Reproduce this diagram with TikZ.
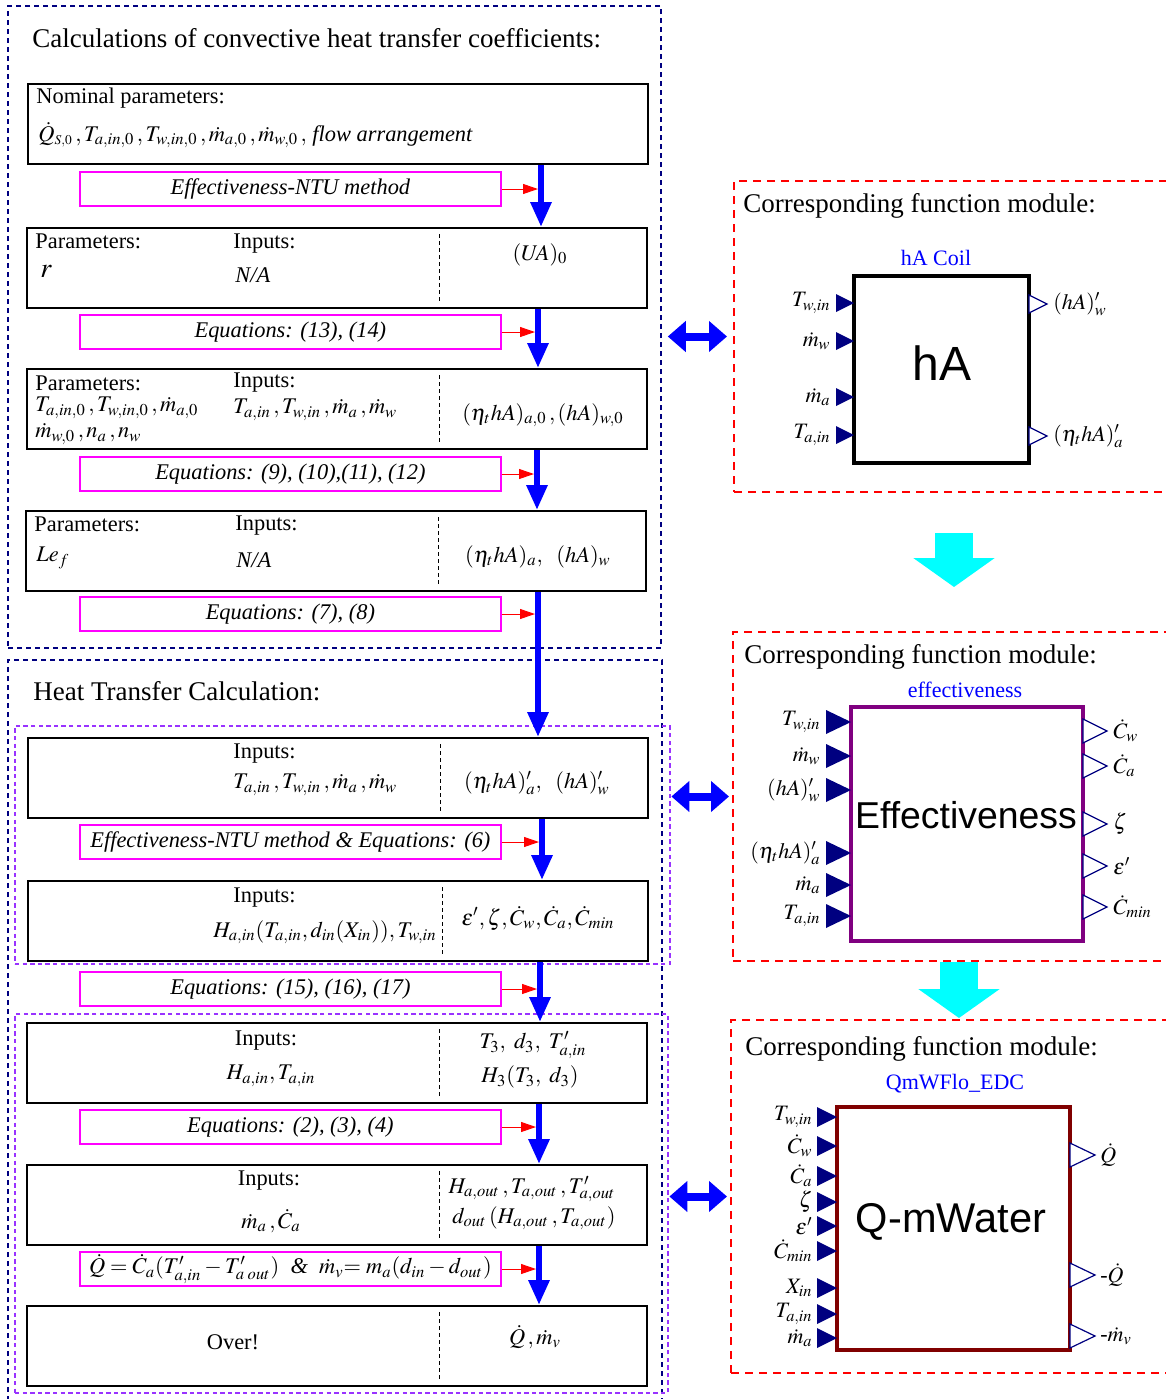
\documentclass[tikz,border=0pt]{standalone}
\usepackage{mathptmx}
\usepackage{fontspec}
\setmainfont{Liberation Serif}
\setsansfont{Liberation Sans}
\usetikzlibrary{positioning, arrows.meta, calc, fit}

\definecolor{navyline}{RGB}{0,0,128}
\definecolor{dotviolet}{RGB}{153,51,255}
\definecolor{modpurple}{RGB}{128,0,128}
\definecolor{modmaroon}{RGB}{128,0,0}
\definecolor{notepink}{RGB}{255,0,255}
\definecolor{aqua}{RGB}{0,255,255}
\definecolor{pureblue}{RGB}{0,0,255}
\definecolor{purered}{RGB}{255,0,0}

\begin{document}
\begin{tikzpicture}[
  x=0.5pt, y=-0.5pt,
  calcgroup/.style={draw=navyline, line width=0.8pt, dash pattern=on 2.5pt off 2pt, inner sep=0pt},
  subgroup/.style={draw=dotviolet, line width=1.4pt, dash pattern=on 2.2pt off 1.6pt, inner sep=0pt},
  modframe/.style={draw=purered, line width=1pt, dash pattern=on 4pt off 3pt, inner sep=0pt},
  stepbox/.style={draw=black, line width=1.2pt, minimum width=310pt, minimum height=40pt,
    anchor=north west, inner sep=0pt},
  note/.style={draw=notepink, line width=0.9pt, minimum width=210.5pt, minimum height=17pt,
    anchor=west, inner sep=0pt, font=\itshape\fontsize{11.2}{13}\selectfont},
  heading/.style={anchor=west, inner sep=0pt, font=\fontsize{13.5}{16}\selectfont},
  txt/.style={inner sep=0pt, font=\fontsize{11.2}{13}\selectfont},
  divider/.style={black, line width=0.5pt, dash pattern=on 2pt off 1.5pt},
  flow/.style={pureblue, line width=3pt, -{Triangle[length=12.5pt, width=10pt]}},
  hint/.style={purered, line width=0.5pt, -{Triangle[length=7.5pt, width=5pt]}, shorten >=1.5pt},
  link/.style={pureblue, line width=4pt, {Triangle[length=9pt, width=15pt]}-{Triangle[length=9pt, width=15pt]}},
  bigdown/.style={aqua, line width=19pt, -{Triangle[length=14.5pt, width=40pt]}},
  fblock/.style={line width=2pt, inner sep=0pt},
  blockname/.style={inner sep=0pt},
  modname/.style={pureblue, inner sep=0pt, font=\fontsize{11}{13}\selectfont},
  portlbl/.style={inner sep=0pt, font=\fontsize{11}{13}\selectfont},
  inport/.style={fill=navyline},
  outport/.style={draw=navyline, line width=0.6pt, fill=white},
]
\useasboundingbox (0,0) rectangle (1166,1399);
\clip (0,0) rectangle (1166,1399);

% frames
\node[calcgroup, fit={(8,6) (661,648)}] (grp1) {};
\draw[calcgroup] (8,1410) -- (8,660) -- (662,660) -- (662,1410);
\node[subgroup, fit={(15,726) (670,964)}] (subA) {};
\node[subgroup, fit={(15,1014) (668,1393)}] (subB) {};

\node[heading] (title1) at (32,38) {Calculations of convective heat transfer coefficients:};
\node[heading] (title2) at (33,691) {Heat Transfer Calculation:};

% step boxes
\node[stepbox] (nom) at (27,83) {};
\node[stepbox] (ua) at (26,227) {};
\node[stepbox] (eta0) at (26,368) {};
\node[stepbox] (etahA) at (25,510) {};
\node[stepbox] (effin) at (27,737) {};
\node[stepbox] (effout) at (27,880) {};
\node[stepbox] (state3) at (26,1022) {};
\node[stepbox] (outlet) at (26,1164) {};
\node[stepbox] (over) at (26,1305) {};

\foreach \b in {ua, eta0, etahA, effin, state3, outlet, over}
  \draw[divider] ($(\b.north west)+(413,7)$) -- ($(\b.south west)+(413,-7)$);
\draw[divider] ($(effout.north west)+(415,7)$) -- ($(effout.south west)+(415,-7)$);

% method notes
\node[note] (ntu) at (79,189) {Effectiveness-NTU method};
\node[note] (eq1314) at (79,332) {Equations: (13), (14)};
\node[note] (eq912) at (79,474) {Equations: (9), (10),(11), (12)};
\node[note] (eq78) at (79,614) {Equations: (7), (8)};
\node[note] (ntusix) at (79,842) {Effectiveness-NTU method \& Equations: (6)};
\node[note] (eq1517) at (79,989) {Equations: (15), (16), (17)};
\node[note] (eq24) at (79,1127) {Equations: (2), (3), (4)};
\node[note] (eqqm) at (79,1269) {$\dot Q = \dot C_a(T'_{a,in} - T'_{a\;out})$\ \ \&\ \ $\dot m_v{=}\;m_a(d_{in} - d_{out})$};

% arrow columns
\coordinate (c1) at (541,0);
\coordinate (c2) at (538,0);
\coordinate (c3) at (537,0);
\coordinate (c4) at (538,0);
\coordinate (c5) at (542,0);
\coordinate (c6) at (540,0);
\coordinate (c7) at (539,0);
\coordinate (c8) at (539,0);

\draw[flow] (nom.south -| c1) -- (ua.north -| c1);
\draw[flow] (ua.south -| c2) -- (eta0.north -| c2);
\draw[flow] (eta0.south -| c3) -- (etahA.north -| c3);
\draw[flow] (etahA.south -| c4) -- (effin.north -| c4);
\draw[flow] (effin.south -| c5) -- (effout.north -| c5);
\draw[flow] (effout.south -| c6) -- (state3.north -| c6);
\draw[flow] (state3.south -| c7) -- (outlet.north -| c7);
\draw[flow] (outlet.south -| c8) -- (over.north -| c8);

\draw[hint] (ntu.east) -- (ntu.east -| c1);
\draw[hint] (eq1314.east) -- (eq1314.east -| c2);
\draw[hint] (eq912.east) -- (eq912.east -| c3);
\draw[hint] (eq78.east) -- (eq78.east -| c4);
\draw[hint] (ntusix.east) -- (ntusix.east -| c5);
\draw[hint] (eq1517.east) -- (eq1517.east -| c6);
\draw[hint] (eq24.east) -- (eq24.east -| c7);
\draw[hint] (eqqm.east) -- (eqqm.east -| c8);

% box texts
\node[txt, anchor=west] (nomhd) at (36,98) {Nominal parameters:};
\node[txt, anchor=west] (nomval) at (38,135) {$\dot Q_{\scriptscriptstyle S,0}\,, T_{a,in,0}\,, T_{w,in,0}\,, \dot m_{a,0}\,, \dot m_{w,0}\,,$ \textit{flow arrangement}};

\node[txt, anchor=west] (uapar) at (35,241) {Parameters:};
\node[txt, anchor=west, font=\fontsize{14}{16}\selectfont] (uar) at (40,271) {$r$};
\node[txt, anchor=west] (uain) at (233,244) {Inputs:};
\node[txt, anchor=west] (uana) at (235,275) {\textit{N/A}};
\node[txt] (uaout) at (540,255) {$(U\!A)_0$};

\node[txt, anchor=west] (eta0par) at (35,383) {Parameters:};
\node[txt, anchor=west] (eta0p1) at (35,408) {$T_{a,in,0}\,, T_{w,in,0}\,, \dot m_{a,0}$};
\node[txt, anchor=west] (eta0p2) at (35,434) {$\dot m_{w,0}\,, n_a\,, n_w$};
\node[txt, anchor=west] (eta0in) at (233,383) {Inputs:};
\node[txt, anchor=west] (eta0iv) at (233,410) {$T_{a,in}\,, T_{w,in}\,, \dot m_a\,, \dot m_w$};
\node[txt] (eta0out) at (543,415) {$(\eta_t hA)_{a,0}\,, (hA)_{w,0}$};

\node[txt, anchor=west] (etapar) at (34,524) {Parameters:};
\node[txt, anchor=west] (etalef) at (36,558) {$Le_f$};
\node[txt, anchor=west] (etain) at (235,526) {Inputs:};
\node[txt, anchor=west] (etana) at (236,560) {\textit{N/A}};
\node[txt] (etaout) at (538,557) {$(\eta_t hA)_a,\ \ (hA)_w$};

\node[txt, anchor=west] (effinin) at (233,754) {Inputs:};
\node[txt, anchor=west] (effiniv) at (233,785) {$T_{a,in}\,, T_{w,in}\,, \dot m_a\,, \dot m_w$};
\node[txt] (effinout) at (537,783) {$(\eta_t hA)'_a,\ \ (hA)'_w$};

\node[txt, anchor=west] (effoutin) at (233,898) {Inputs:};
\node[txt, anchor=east] (effoutiv) at (437,932) {$H_{a,in}(T_{a,in}, d_{in}(X_{in})), T_{w,in}$};
\node[txt] (effoutout) at (538,918) {$\varepsilon', \zeta, \dot C_w, \dot C_a, \dot C_{min}$};

\node[txt] (st3in) at (266,1041) {Inputs:};
\node[txt] (st3iv) at (271,1076) {$H_{a,in}, T_{a,in}$};
\node[txt] (st3o1) at (533,1045) {$T_3,\ d_3,\ T'_{a,in}$};
\node[txt] (st3o2) at (530,1077) {$H_3(T_3,\ d_3)$};

\node[txt] (outin) at (269,1181) {Inputs:};
\node[txt] (outiv) at (271,1221) {$\dot m_a\,, \dot C_a$};
\node[txt] (outo1) at (532,1189) {$H_{a,out}\,, T_{a,out}\,, T'_{a,out}$};
\node[txt] (outo2) at (534,1218) {$d_{out}\,(H_{a,out}\,, T_{a,out})$};

\node[txt] (overtxt) at (233,1342) {Over!};
\node[txt] (overout) at (535,1337) {$\dot Q\,, \dot m_v$};

% function modules
\node[modframe, fit={(734,181) (1180,492)}] (modA) {};
\node[modframe, fit={(733,632) (1180,961)}] (modB) {};
\node[modframe, fit={(731,1020) (1180,1373)}] (modC) {};
\node[heading] (modAhd) at (743,206) {Corresponding function module:};
\node[heading] (modBhd) at (744,657) {Corresponding function module:};
\node[heading] (modChd) at (745,1049) {Corresponding function module:};

\node[fblock, draw=black, fit={(854,276) (1029,463)}] (blkA) {};
\node[fblock, draw=modpurple, fit={(851,707) (1083,941)}] (blkB) {};
\node[fblock, draw=modmaroon, fit={(837,1107) (1070,1350)}] (blkC) {};

\node[modname] (blkAnm) at (936,258) {hA Coil};
\node[modname] (blkBnm) at (965,690) {effectiveness};
\node[modname] (blkCnm) at (955,1084) {QmWFlo\_EDC};

\node[blockname, font=\sffamily\fontsize{24}{28}\selectfont] (blkAtx) at (942,363) {hA};
\node[blockname, font=\sffamily\fontsize{18.7}{22}\selectfont] (blkBtx) at (966,815) {Effectiveness};
\node[blockname, font=\sffamily\fontsize{20.8}{24}\selectfont] (blkCtx) at (951,1222) {Q-mWater};

% ports
\foreach \py/\plab [count=\i] in {303/{$T_{w,in}$}, 341/{$\dot m_w$}, 397/{$\dot m_a$}, 435/{$T_{a,in}$}} {
  \fill[inport] (836,\py-9) -- (854,\py) -- (836,\py+9) -- cycle;
  \node[portlbl, anchor=east] (hAin\i) at (831,\py) {\plab};
}
\foreach \py/\plab [count=\i] in {304/{$(hA)'_w$}, 436/{$(\eta_t hA)'_a$}} {
  \draw[outport] (1029,\py-9) -- (1047,\py) -- (1029,\py+9) -- cycle;
  \node[portlbl, anchor=west] (hAout\i) at (1053,\py) {\plab};
}
\foreach \py/\plab [count=\i] in {722/{$T_{w,in}$}, 756/{$\dot m_w$}, 790/{$(hA)'_w$},
    853/{$(\eta_t hA)'_a$}, 885/{$\dot m_a$}, 916/{$T_{a,in}$}} {
  \fill[inport] (826,\py-12) -- (851,\py) -- (826,\py+12) -- cycle;
  \node[portlbl, anchor=east] (efin\i) at (821,\py) {\plab};
}
\foreach \py/\plab [count=\i] in {731/{$\dot C_w$}, 766/{$\dot C_a$}, 824/{$\zeta$},
    866/{$\varepsilon'$}, 907/{$\dot C_{min}$}} {
  \draw[outport] (1083,\py-12) -- (1107,\py) -- (1083,\py+12) -- cycle;
  \node[portlbl, anchor=west] (efout\i) at (1113,\py) {\plab};
}
\foreach \py/\plab [count=\i] in {1117/{$T_{w,in}$}, 1146/{$\dot C_w$}, 1176/{$\dot C_a$},
    1202/{$\zeta$}, 1226/{$\varepsilon'$}, 1251/{$\dot C_{min}$}, 1288/{$X_{in}$},
    1314/{$T_{a,in}$}, 1338/{$\dot m_a$}} {
  \fill[inport] (817,\py-10) -- (837,\py) -- (817,\py+10) -- cycle;
  \node[portlbl, anchor=east] (qmin\i) at (813,\py) {\plab};
}
\foreach \py/\plab [count=\i] in {1155/{$\dot Q$}, 1275/{-$\dot Q$}, 1336/{-$\dot m_v$}} {
  \draw[outport] (1070,\py-12) -- (1095,\py) -- (1070,\py+12) -- cycle;
  \node[portlbl, anchor=west] (qmout\i) at (1100,\py) {\plab};
}

% links between calculation steps and modules
\draw[link] ($(grp1.east |- modA.west)+(6,0)$) -- ($(modA.west)+(-6,0)$);
\draw[link] (subA.east |- modB.west) -- ($(modB.west)+(-3,0)$);
\draw[link] (subB.east |- modC.west) -- ($(modC.west)+(-3,0)$);

\coordinate (dnA) at (954,533);
\coordinate (dnB) at (954,587);
\coordinate (dnC) at (959,962);
\coordinate (dnD) at (959,1018);
\draw[bigdown] (dnA) -- (dnB);
\draw[bigdown] (dnC) -- (dnD);

\end{tikzpicture}
\end{document}
